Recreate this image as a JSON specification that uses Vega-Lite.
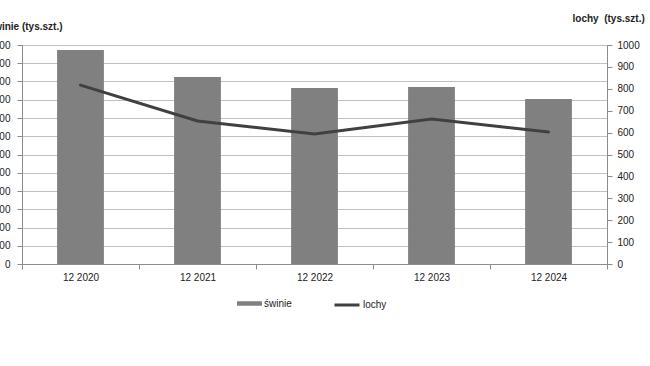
{
  "$schema": "https://vega.github.io/schema/vega-lite/v6.json",
  "width": 585,
  "height": 219,
  "autosize": {"type": "none"},
  "padding": {"left": 22, "top": 45, "right": 43, "bottom": 102},
  "background": "white",
  "config": {
    "view": {"stroke": "#8c8c8c"},
    "font": "Liberation Sans",
    "axis": {
      "labelFont": "Liberation Sans", "labelFontSize": 10, "labelColor": "#222",
      "domainColor": "#8c8c8c", "tickColor": "#8c8c8c",
      "titleFont": "Liberation Sans", "titleFontSize": 10, "titleFontWeight": "bold", "titleColor": "#222"
    },
    "legend": {
      "orient": "none", "direction": "horizontal", "padding": 0,
      "labelFont": "Liberation Sans", "labelFontSize": 10, "labelColor": "#222", "labelOffset": 2
    }
  },
  "data": {
    "values": [
      {"okres": "12 2020", "swinie": 11727, "lochy": 817},
      {"okres": "12 2021", "swinie": 10247, "lochy": 653},
      {"okres": "12 2022", "swinie": 9644, "lochy": 594},
      {"okres": "12 2023", "swinie": 9699, "lochy": 662},
      {"okres": "12 2024", "swinie": 9041, "lochy": 603}
    ]
  },
  "encoding": {
    "x": {
      "field": "okres", "type": "nominal", "sort": null,
      "scale": {"paddingInner": 0, "paddingOuter": 0},
      "axis": {"title": null, "labelAngle": 0, "tickBand": "extent", "tickSize": 5, "labelPadding": 3, "grid": false}
    }
  },
  "layer": [
    {
      "mark": {"type": "bar", "width": {"band": 0.4}},
      "encoding": {
        "y": {
          "field": "swinie", "type": "quantitative",
          "scale": {"domain": [0, 12000], "nice": false},
          "axis": {
            "values": [0, 1000, 2000, 3000, 4000, 5000, 6000, 7000, 8000, 9000, 10000, 11000, 12000],
            "format": "d", "grid": true, "gridColor": "#c0c0c0", "tickSize": 5, "labelPadding": 7,
            "title": "świnie (tys.szt.)", "titleAngle": 0, "titleAlign": "right", "titleBaseline": "middle",
            "titleX": 40, "titleY": -19
          }
        },
        "fill": {
          "datum": "świnie",
          "scale": {"range": ["#808080"]},
          "legend": {"title": null, "symbolType": "M-1,-0.18H1V0.18H-1Z", "symbolSize": 625, "symbolStrokeWidth": 0, "legendX": 215, "legendY": 246}
        }
      }
    },
    {
      "mark": {"type": "line", "strokeWidth": 3, "strokeCap": "round"},
      "encoding": {
        "y": {
          "field": "lochy", "type": "quantitative",
          "scale": {"domain": [0, 1000], "nice": false},
          "axis": {
            "orient": "right",
            "values": [0, 100, 200, 300, 400, 500, 600, 700, 800, 900, 1000],
            "format": "d", "grid": false, "tickSize": 5, "labelPadding": 5,
            "title": "lochy\u00a0 (tys.szt.)", "titleAngle": 0, "titleAlign": "left", "titleBaseline": "middle",
            "titleX": -35, "titleY": -27
          }
        },
        "stroke": {
          "datum": "lochy",
          "scale": {"range": ["#404040"]},
          "legend": {"title": null, "symbolType": "stroke", "symbolSize": 625, "symbolStrokeWidth": 3, "legendX": 311, "legendY": 246}
        }
      }
    }
  ],
  "resolve": {"scale": {"y": "independent"}}
}
